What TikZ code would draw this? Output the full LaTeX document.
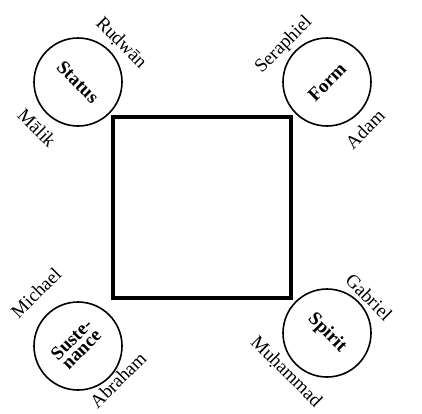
\documentclass[tikz,border=0pt]{standalone}
\usepackage{fontspec}
\setmainfont{Liberation Serif}
\usepackage{tikz}

\begin{document}
\begin{tikzpicture}[x=1pt,y=-1pt,
    realm/.style={draw,circle,line width=1.6pt,minimum size=88pt,inner sep=0pt,font=\fontsize{19}{19}\selectfont\bfseries,align=center},
    angel/.style={font=\fontsize{19}{19}\selectfont,inner sep=0pt}]
    \useasboundingbox (0,0) rectangle (422,413);

    % Central square
    \draw[line width=3.8pt] (113,117) rectangle (291,298);

    % Realms
    \node[realm] (status) at (78,82) {\rotatebox{-45}{Status}};
    \node[realm] (form) at (327,82) {\rotatebox{45}{Form}};
    \node[realm] (sustenance) at (78,346) {\rotatebox{45}{\begin{tabular}{@{}c@{}}Suste-\\[-5pt]nance\end{tabular}}};
    \node[realm] (spirit) at (327,333) {\rotatebox{-45}{Spirit}};

    % Angels and prophets
    \node[angel,rotate=-45] (rudwan) at (121,43) {Ruḍwān};
    \node[angel,rotate=-45] (malik) at (37,128) {Mālik};
    \node[angel,rotate=45] (seraphiel) at (284,45) {Seraphiel};
    \node[angel,rotate=45] (adam) at (365,129) {Adam};
    \node[angel,rotate=45] (michael) at (36,293) {Michael};
    \node[angel,rotate=45] (abraham) at (118,380) {Abraham};
    \node[angel,rotate=-45] (gabriel) at (369,297) {Gabriel};
    \node[angel,rotate=-45] (muhammad) at (286,372) {Muḥammad};
\end{tikzpicture}
\end{document}
